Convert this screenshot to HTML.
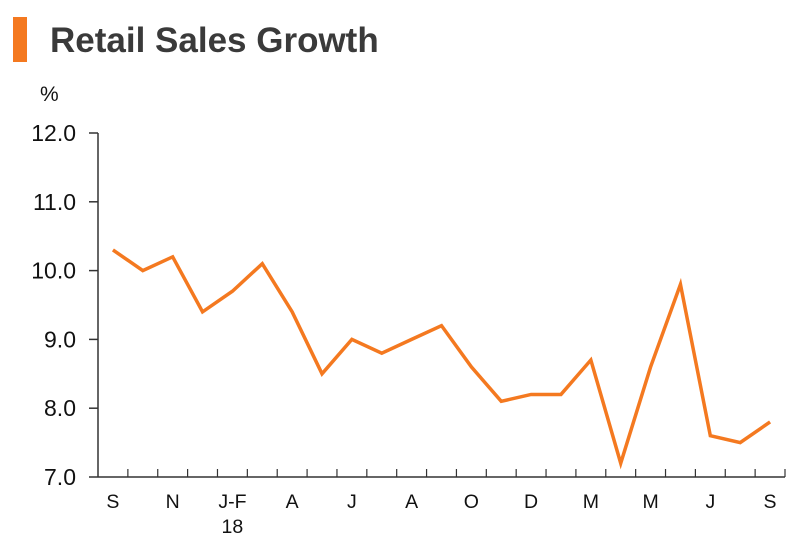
<!DOCTYPE html>
<html><head><meta charset="utf-8"><style>
body{margin:0;background:#fff;width:800px;height:553px;overflow:hidden;font-family:"Liberation Sans",Arial,sans-serif}
</style></head><body>
<svg width="800" height="553">
<rect x="13" y="17" width="14" height="45" fill="#f47920"/>
<text x="50" y="52" font-size="35" font-weight="bold" fill="#3a3a3a">Retail Sales Growth</text>
<text x="40" y="101" font-size="21" fill="#111">%</text>
<g id="axes"></g>
<g id="plot"></g>
</svg>
<script>
const categories=["S","O","N","D","J-F","M","A","M","J","J","A","S","O","N","D","J","M","A","M","J","J","A","S"];
const shownLabels=["S","","N","","J-F","","A","","J","","A","","O","","D","","M","","M","","J","","S"];
const values=[10.3,10.0,10.2,9.4,9.7,10.1,9.4,8.5,9.0,8.8,9.0,9.2,8.6,8.1,8.2,8.2,8.7,7.2,8.6,9.8,7.6,7.5,7.8];
const yTicks=[7.0,8.0,9.0,10.0,11.0,12.0];
const ns="http://www.w3.org/2000/svg";
const x0=98,x1=785,y0=477,y1=133,yMin=7,yMax=12;
const bw=(x1-x0)/categories.length;
const xs=i=>x0+bw*(i+0.5);
const ys=v=>y0-(v-yMin)/(yMax-yMin)*(y0-y1);
const axes=document.getElementById('axes'),plot=document.getElementById('plot');
function mk(t,a,p){const e=document.createElementNS(ns,t);for(const k in a)e.setAttribute(k,a[k]);p.appendChild(e);return e;}
let e=mk('line',{x1:x0,y1:y0,x2:x0,y2:y1,stroke:'#333','stroke-width':1.5},axes);


e=mk('line',{x1:x0,y1:y0,x2:x1,y2:y0,stroke:'#333','stroke-width':1.5},axes);


yTicks.forEach(v=>{
 const t=mk('line',{x1:x0-9,y1:ys(v),x2:x0,y2:ys(v),stroke:'#333','stroke-width':1.5},axes);
 
 
 const l=mk('text',{x:76,y:ys(v)+8,'font-size':23,'text-anchor':'end',fill:'#111'},axes);
 l.textContent=v.toFixed(1);
 
 
});
for(let i=1;i<=categories.length;i++){
 const xx=x0+bw*i;
 const t=mk('line',{x1:xx,y1:y0,x2:xx,y2:y0-8,stroke:'#333','stroke-width':1.2},axes);
 
 
}
shownLabels.forEach((s,i)=>{
 if(!s)return;
 const l=mk('text',{x:xs(i),y:508,'font-size':19.5,'text-anchor':'middle',fill:'#111'},axes);
 l.textContent=s;
 
 
});
e=mk('text',{x:xs(4),y:533,'font-size':19.5,'text-anchor':'middle',fill:'#111'},axes);
e.textContent='18';


const line=mk('polyline',{points:values.map((v,i)=>xs(i)+','+ys(v)).join(' '),fill:'none',stroke:'#f47920','stroke-width':3.5,'stroke-linejoin':'miter'},plot);


</script>
</body></html>
